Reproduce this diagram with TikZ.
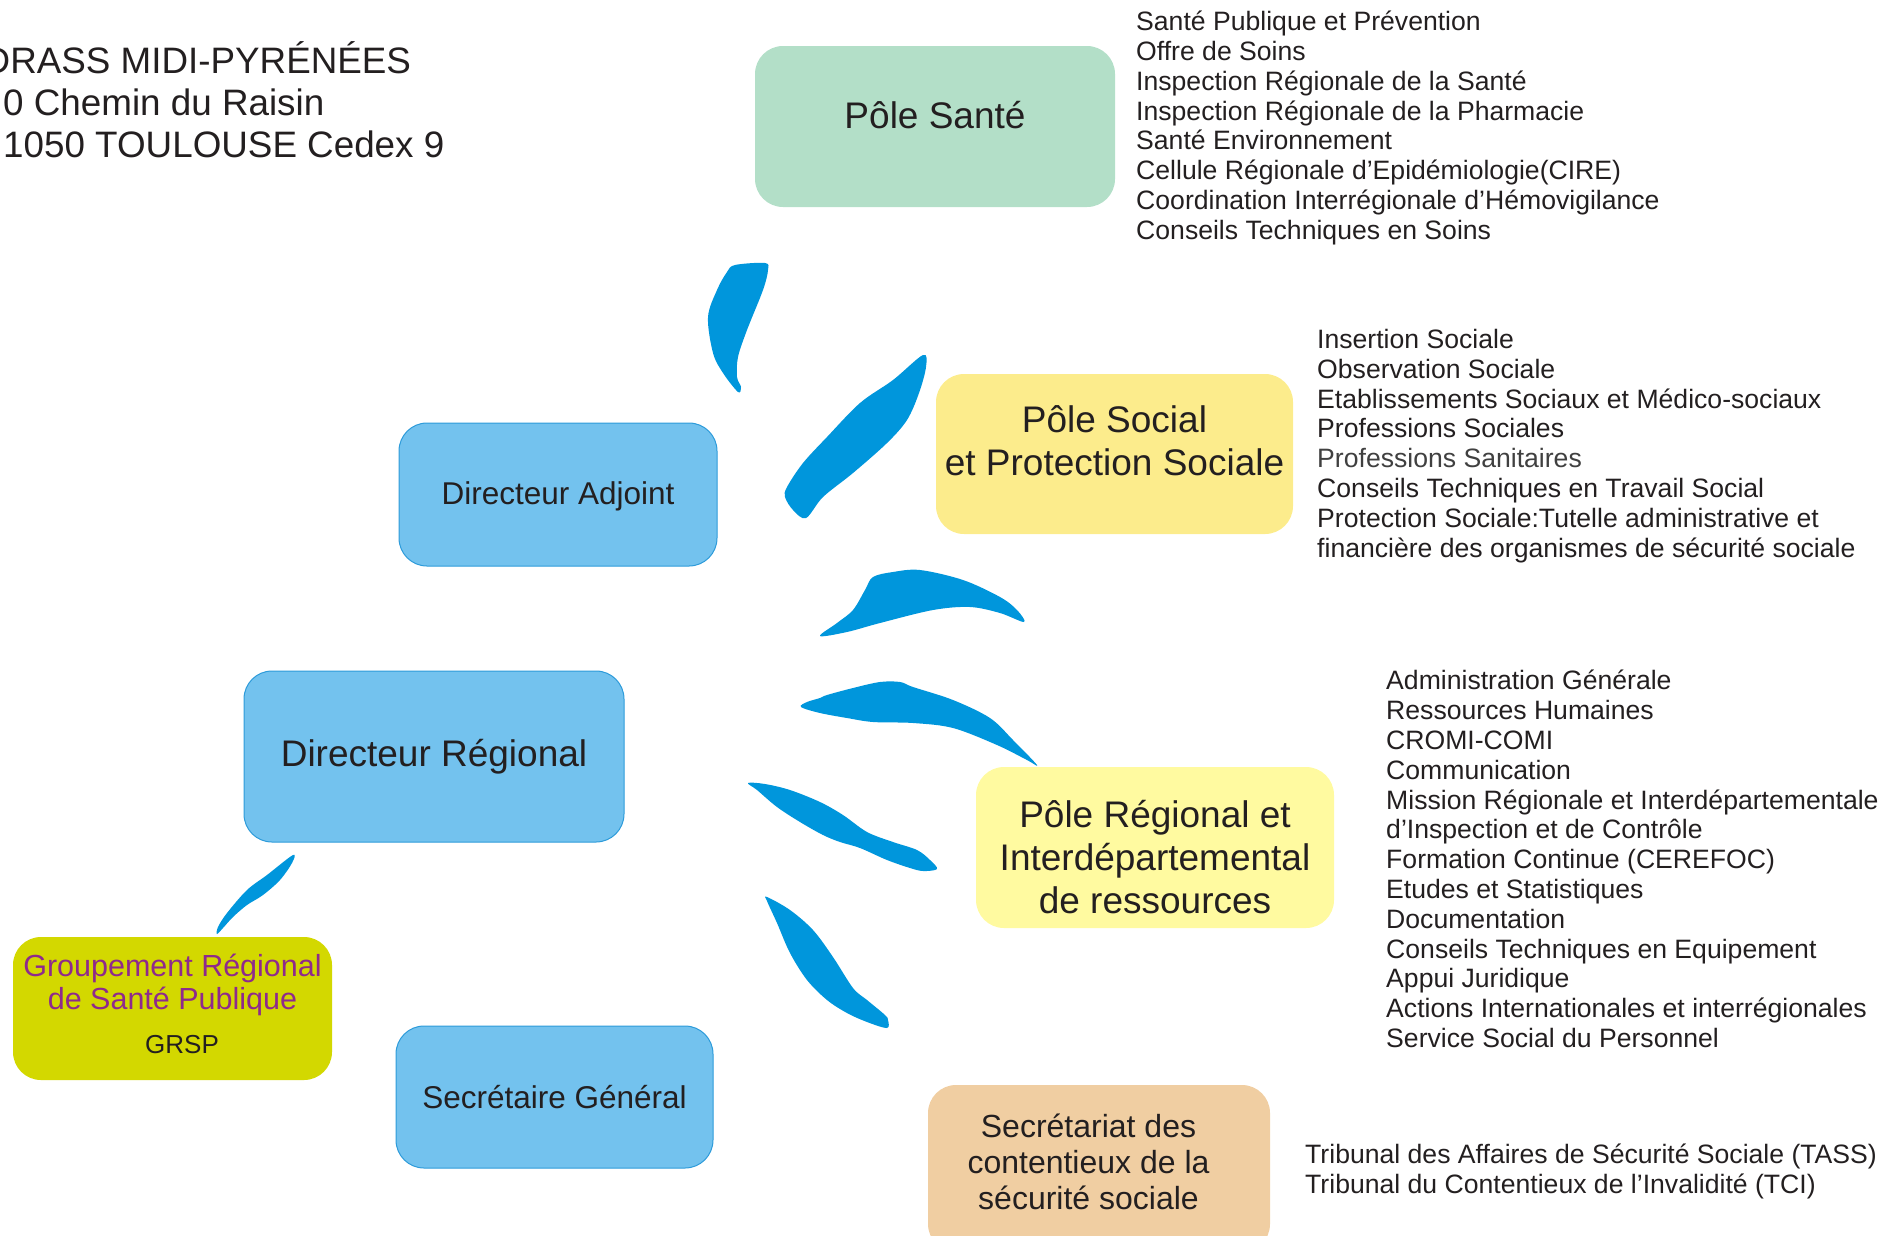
\documentclass[tikz,border=0pt]{standalone}
\usepackage{fontspec}
\setmainfont{Liberation Sans}
\usepackage{xcolor}
\usepackage{tikz}

\definecolor{leafblue}{RGB}{0,150,220}
\definecolor{boxblue}{RGB}{115,194,238}
\definecolor{boxblueline}{RGB}{45,155,218}
\definecolor{santegreen}{RGB}{179,223,200}
\definecolor{socialyellow}{RGB}{252,236,140}
\definecolor{regionyellow}{RGB}{255,250,160}
\definecolor{grspgreen}{RGB}{211,216,0}
\definecolor{grsppurple}{RGB}{142,42,140}
\definecolor{tasspeach}{RGB}{240,206,162}
\definecolor{inkblack}{RGB}{35,31,32}

\newcommand{\lift}[2]{\raisebox{#1}[\height][\depth]{#2}}
\newcommand{\boxlines}[1]{\begin{tabular}{@{}c@{}}#1\end{tabular}}

\begin{document}
\begin{tikzpicture}[x=1pt, y=-1pt, text=inkblack,
    pole/.style={rectangle, rounded corners=28pt, inner sep=0pt},
    bluebox/.style={pole, fill=boxblue, draw=boxblueline, line width=1pt},
    bigtext/.style={font=\fontsize{37}{43}\selectfont},
    midtext/.style={font=\fontsize{31.5}{36}\selectfont},
    liste/.style={anchor=north west, align=left, inner sep=0pt, font=\fontsize{26.6}{29.8}\selectfont},
    leaf/.style={fill=leafblue, smooth cycle, tension=0.55}]
                \useasboundingbox (0,0) rectangle (1894,1235);
                \clip (0,0) rectangle (1894,1235);

                %address
                \node[anchor=north west, align=left, inner sep=0pt, font=\fontsize{36.8}{42}\selectfont] (adresse) at (3,41)
                    {\hspace*{-0.53em}DRASS MIDI-PYRÉNÉES\\0 Chemin du Raisin\\1050 TOULOUSE Cedex 9};

                %poles
                \node[pole, fill=santegreen, bigtext, minimum width=360pt, minimum height=161pt] (sante) at (935,126.5)
                    {\lift{11pt}{Pôle Santé}};
                \node[pole, fill=socialyellow, bigtext, minimum width=357pt, minimum height=160pt] (social) at (1114.5,454)
                    {\lift{8.3pt}{\boxlines{Pôle Social\\et Protection Sociale}}};
                \node[pole, fill=regionyellow, bigtext, minimum width=358pt, minimum height=161pt] (region) at (1155,847.5)
                    {\lift{-14.2pt}{\boxlines{Pôle Régional et\\Interdépartemental\\de ressources}}};
                \node[pole, fill=tasspeach, font=\fontsize{32}{36}\selectfont, minimum width=342pt, minimum height=167pt] (contentieux) at (1099,1168.5)
                    {\lift{2.2pt}{\hspace*{-21pt}\boxlines{Secrétariat des\\contentieux de la\\sécurité sociale}}};

                %direction
                \node[bluebox, midtext, minimum width=318pt, minimum height=143pt] (adjoint) at (558,494.5) {\lift{-2pt}{Directeur Adjoint}};
                \node[bluebox, bigtext, minimum width=380pt, minimum height=171pt] (directeur) at (434,756.5) {Directeur Régional};
                \node[bluebox, midtext, minimum width=317pt, minimum height=142pt] (secretaire) at (554.5,1097) {Secrétaire Général};
                \node[pole, fill=grspgreen, font=\fontsize{30.5}{33}\selectfont, minimum width=319pt, minimum height=143pt] (grsp) at (172.5,1008.5)
                    {\boxlines{\color{grsppurple}Groupement Régional\\\color{grsppurple}de Santé Publique\\[10.4pt]\hspace*{19pt}\fontsize{26}{30}\selectfont GRSP}};

                %lists
                \node[liste] (sante-list) at (1136,11) {Santé Publique et Prévention\\Offre de Soins\\Inspection Régionale de la Santé\\Inspection Régionale de la Pharmacie\\Santé Environnement\\Cellule Régionale d’Epidémiologie(CIRE)\\Coordination Interrégionale d’Hémovigilance\\Conseils Techniques en Soins};
                \node[liste] (social-list) at (1317,329) {Insertion Sociale\\Observation Sociale\\Etablissements Sociaux et Médico-sociaux\\Professions Sociales\\\textcolor{black!75}{Professions Sanitaires}\\Conseils Techniques en Travail Social\\Protection Sociale:Tutelle administrative et\\financière des organismes de sécurité sociale};
                \node[liste] (region-list) at (1386,670) {Administration Générale\\Ressources Humaines\\CROMI-COMI\\Communication\\Mission Régionale et Interdépartementale\\d’Inspection et de Contrôle\\Formation Continue (CEREFOC)\\Etudes et Statistiques\\Documentation\\Conseils Techniques en Equipement\\Appui Juridique\\Actions Internationales et interrégionales\\Service Social du Personnel};
                \node[liste] (tass-list) at (1305,1143.5) {Tribunal des Affaires de Sécurité Sociale (TASS)\\Tribunal du Contentieux de l’Invalidité (TCI)};

                %leaves
                \fill[leafblue] plot[smooth cycle, tension=0.55] coordinates {(735,265) (765,263) (768,270) (763,290) (747,330) (738,357) (737,377) (741,387) (738,392) (723,373) (713,353) (708,317) (717,290) (727,272)};
                \fill[leafblue] plot[smooth cycle, tension=0.55] coordinates {(923,355) (926,367) (919,393) (907,420) (887,443) (853,473) (823,497) (806,518) (793,510) (785,497) (787,487) (803,463) (827,437) (860,403) (893,380)};
                \fill[leafblue] plot[smooth cycle, tension=0.55] coordinates {(820,636) (837,623) (853,610) (865,590) (873,577) (893,572) (920,570) (963,580) (1000,597) (1017,610) (1024,622) (1000,613) (970,607) (933,610) (880,623) (847,632)};
                \fill[leafblue] plot[smooth cycle, tension=0.55] coordinates {(801,707) (807,702) (820,698) (827,695) (853,688) (880,682) (900,682) (913,687) (953,700) (990,718) (1013,740) (1037,765) (1027,760) (997,745) (953,728) (913,723) (873,722) (847,718) (820,713)};
                \fill[leafblue] plot[smooth cycle, tension=0.55] coordinates {(748,783) (765,784) (790,790) (820,802) (843,815) (867,832) (893,842) (917,850) (930,860) (937,869) (923,871) (910,868) (887,860) (860,848) (840,842) (823,835) (800,822) (777,807) (757,790)};
                \fill[leafblue] plot[smooth cycle, tension=0.55] coordinates {(767,897) (790,910) (813,930) (833,957) (853,988) (867,1000) (885,1015) (888,1020) (887,1028) (867,1022) (847,1013) (827,1000) (807,980) (790,953) (777,923) (767,901)};
                \fill[leafblue] plot[smooth cycle, tension=0.55] coordinates {(293,855) (292,863) (280,880) (263,895) (247,905) (233,917) (223,928) (217,934) (218,927) (227,913) (247,890) (267,875)};

            \end{tikzpicture}
\end{document}
